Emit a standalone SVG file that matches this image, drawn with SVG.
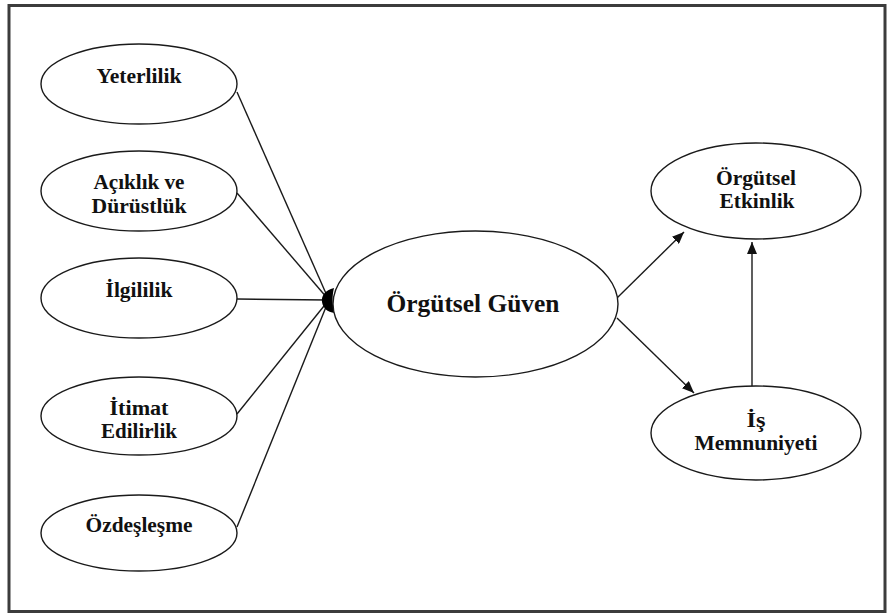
<svg xmlns="http://www.w3.org/2000/svg" width="892" height="615" viewBox="0 0 892 615">
<defs>
<style>
.node ellipse{fill:#fff;stroke:#1a1a1a;stroke-width:1.4}
.node text{font-family:"Liberation Serif","Times New Roman",serif;font-weight:bold;font-size:20px;fill:#111;text-anchor:middle}
.conn line{stroke:#1a1a1a;stroke-width:1.4}
.node text.big{font-size:25px}
</style>
<marker id="arr" viewBox="0 0 12 10" refX="12" refY="5" markerWidth="12" markerHeight="10" markerUnits="userSpaceOnUse" orient="auto">
<path d="M0,0 L12,5 L0,10 Z" fill="#111"/>
</marker>
</defs>
<rect x="0" y="0" width="892" height="615" fill="#fff"/>
<rect x="9" y="5.5" width="876" height="606" fill="none" stroke="#3c3c3c" stroke-width="3"/>
<g id="connectors" class="conn">
<line x1="237" y1="92" x2="328" y2="298"/>
<line x1="237" y1="193" x2="328" y2="299"/>
<line x1="237" y1="299" x2="328" y2="300"/>
<line x1="237" y1="414" x2="328" y2="301"/>
<line x1="237" y1="527" x2="328" y2="302"/>
<path d="M334,288 C325,290 321,296 322,302 C323,308 327,312 335,313 C332,305 332,296 334,288 Z" fill="#000"/>
<line x1="617" y1="298" x2="684" y2="232" marker-end="url(#arr)"/>
<line x1="617" y1="318" x2="694" y2="393" marker-end="url(#arr)"/>
<line x1="752" y1="387" x2="752" y2="242" marker-end="url(#arr)"/>
</g>
<g id="yeterlilik" class="node">
<ellipse cx="139" cy="84" rx="98" ry="40"/>
<text x="139" y="83" textLength="85" lengthAdjust="spacingAndGlyphs">Yeterlilik</text>
</g>
<g id="aciklik" class="node">
<ellipse cx="139" cy="191" rx="98" ry="40"/>
<text x="139" y="189" textLength="91" lengthAdjust="spacingAndGlyphs">Açıklık ve</text>
<text x="139" y="213" textLength="95" lengthAdjust="spacingAndGlyphs">Dürüstlük</text>
</g>
<g id="ilgililik" class="node">
<ellipse cx="139" cy="298" rx="98" ry="40"/>
<text x="139" y="297" textLength="67" lengthAdjust="spacingAndGlyphs">İlgililik</text>
</g>
<g id="itimat" class="node">
<ellipse cx="139" cy="416" rx="98" ry="39"/>
<text x="139" y="415" textLength="59" lengthAdjust="spacingAndGlyphs">İtimat</text>
<text x="139" y="438" textLength="76" lengthAdjust="spacingAndGlyphs">Edilirlik</text>
</g>
<g id="ozdeslesme" class="node">
<ellipse cx="139" cy="533" rx="98" ry="38"/>
<text x="139" y="532" textLength="107" lengthAdjust="spacingAndGlyphs">Özdeşleşme</text>
</g>
<g id="orgutsel-guven" class="node">
<ellipse cx="475.5" cy="304" rx="142.5" ry="73"/>
<text class="big" x="473" y="312" textLength="173" lengthAdjust="spacingAndGlyphs">Örgütsel Güven</text>
</g>
<g id="orgutsel-etkinlik" class="node">
<ellipse cx="756" cy="191" rx="105" ry="48"/>
<text x="756" y="185" textLength="80" lengthAdjust="spacingAndGlyphs">Örgütsel</text>
<text x="757" y="208" textLength="75" lengthAdjust="spacingAndGlyphs">Etkinlik</text>
</g>
<g id="is-memnuniyeti" class="node">
<ellipse cx="756" cy="433" rx="105" ry="47"/>
<text x="756" y="427" textLength="19" lengthAdjust="spacingAndGlyphs">İş</text>
<text x="756" y="450" textLength="123" lengthAdjust="spacingAndGlyphs">Memnuniyeti</text>
</g>
</svg>
